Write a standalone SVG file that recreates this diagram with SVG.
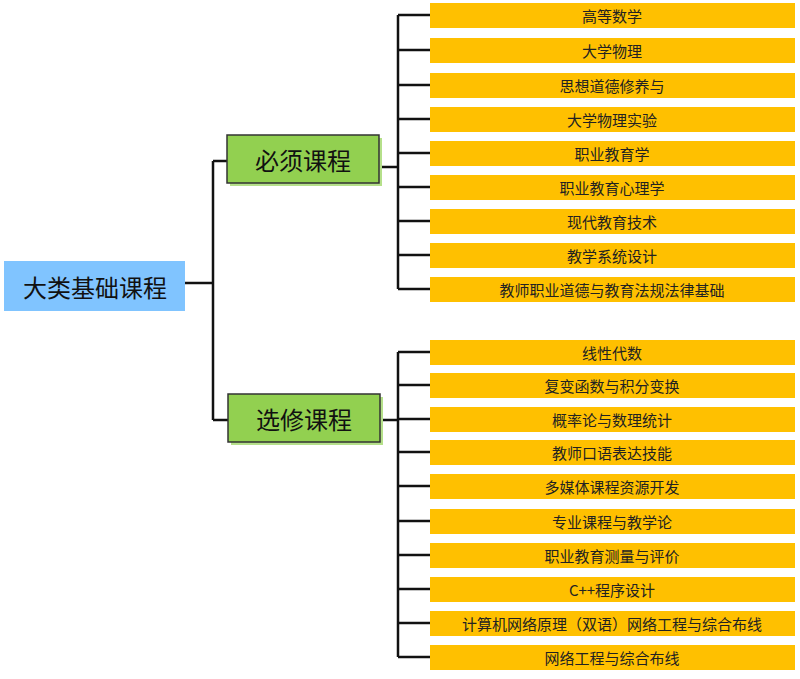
<svg xmlns="http://www.w3.org/2000/svg" width="800" height="679" viewBox="0 0 800 679">
<style>
.lf{fill:#ffc000}
.lt{font-family:"Noto Sans CJK SC","Noto Sans",sans-serif;font-size:15px;fill:#222;text-anchor:middle;dominant-baseline:central}
.g{fill:#92d050;stroke:#333;stroke-width:1.5}
.gt{font-family:"Noto Sans CJK SC",sans-serif;font-size:24px;fill:#111;text-anchor:middle;dominant-baseline:central}
.c{fill:none;stroke:#111;stroke-width:2.5}
</style>
<rect width="800" height="679" fill="#fff"/>
<g id="connectors">
<path class="c" d="M185 283H213M213 161V420M213 161H227M213 420H228"/>
<path class="c" d="M380 167H398M398 15V289"/>
<path class="c" d="M398 15H430M398 50H430M398 85H430M398 119H430M398 153H430M398 187H430M398 221H430M398 255H430M398 289H430"/>
<path class="c" d="M380 420H398M398 352V657"/>
<path class="c" d="M398 352H430M398 385H430M398 419H430M398 452H430M398 486H430M398 521H430M398 555H430M398 589H430M398 623H430M398 657H430"/>
</g>
<g id="root"><rect x="4" y="261" width="181" height="50" fill="#80c4ff"/><text class="gt" x="95" y="286" font-size="22">大类基础课程</text></g>
<g id="required"><rect x="230" y="138" width="152" height="48" fill="#b5e08a"/><rect class="g" x="227" y="135" width="152" height="48"/><text class="gt" x="303" y="159">必须课程</text></g>
<g id="elective"><rect x="231" y="397" width="152" height="48" fill="#b5e08a"/><rect class="g" x="228" y="394" width="152" height="48"/><text class="gt" x="304" y="418">选修课程</text></g>
<g id="req-items">
<rect class="lf" x="430" y="3" width="365" height="25"/><text class="lt" x="612" y="15">高等数学</text>
<rect class="lf" x="430" y="38" width="365" height="25"/><text class="lt" x="612" y="50">大学物理</text>
<rect class="lf" x="430" y="73" width="365" height="25"/><text class="lt" x="612" y="85">思想道德修养与</text>
<rect class="lf" x="430" y="107" width="365" height="25"/><text class="lt" x="612" y="119">大学物理实验</text>
<rect class="lf" x="430" y="141" width="365" height="25"/><text class="lt" x="612" y="153">职业教育学</text>
<rect class="lf" x="430" y="175" width="365" height="25"/><text class="lt" x="612" y="187">职业教育心理学</text>
<rect class="lf" x="430" y="209" width="365" height="25"/><text class="lt" x="612" y="221">现代教育技术</text>
<rect class="lf" x="430" y="243" width="365" height="25"/><text class="lt" x="612" y="255">教学系统设计</text>
<rect class="lf" x="430" y="277" width="365" height="25"/><text class="lt" x="612" y="289">教师职业道德与教育法规法律基础</text>
</g>
<g id="ele-items">
<rect class="lf" x="430" y="340" width="365" height="25"/><text class="lt" x="612" y="352">线性代数</text>
<rect class="lf" x="430" y="373" width="365" height="25"/><text class="lt" x="612" y="385">复变函数与积分变换</text>
<rect class="lf" x="430" y="407" width="365" height="25"/><text class="lt" x="612" y="419">概率论与数理统计</text>
<rect class="lf" x="430" y="440" width="365" height="25"/><text class="lt" x="612" y="452">教师口语表达技能</text>
<rect class="lf" x="430" y="474" width="365" height="25"/><text class="lt" x="612" y="486">多媒体课程资源开发</text>
<rect class="lf" x="430" y="509" width="365" height="25"/><text class="lt" x="612" y="521">专业课程与教学论</text>
<rect class="lf" x="430" y="543" width="365" height="25"/><text class="lt" x="612" y="555">职业教育测量与评价</text>
<rect class="lf" x="430" y="577" width="365" height="25"/><text class="lt" x="612" y="589">C++程序设计</text>
<rect class="lf" x="430" y="611" width="365" height="25"/><text class="lt" x="612" y="623">计算机网络原理（双语）网络工程与综合布线</text>
<rect class="lf" x="430" y="645" width="365" height="25"/><text class="lt" x="612" y="657">网络工程与综合布线</text>
</g>
</svg>
